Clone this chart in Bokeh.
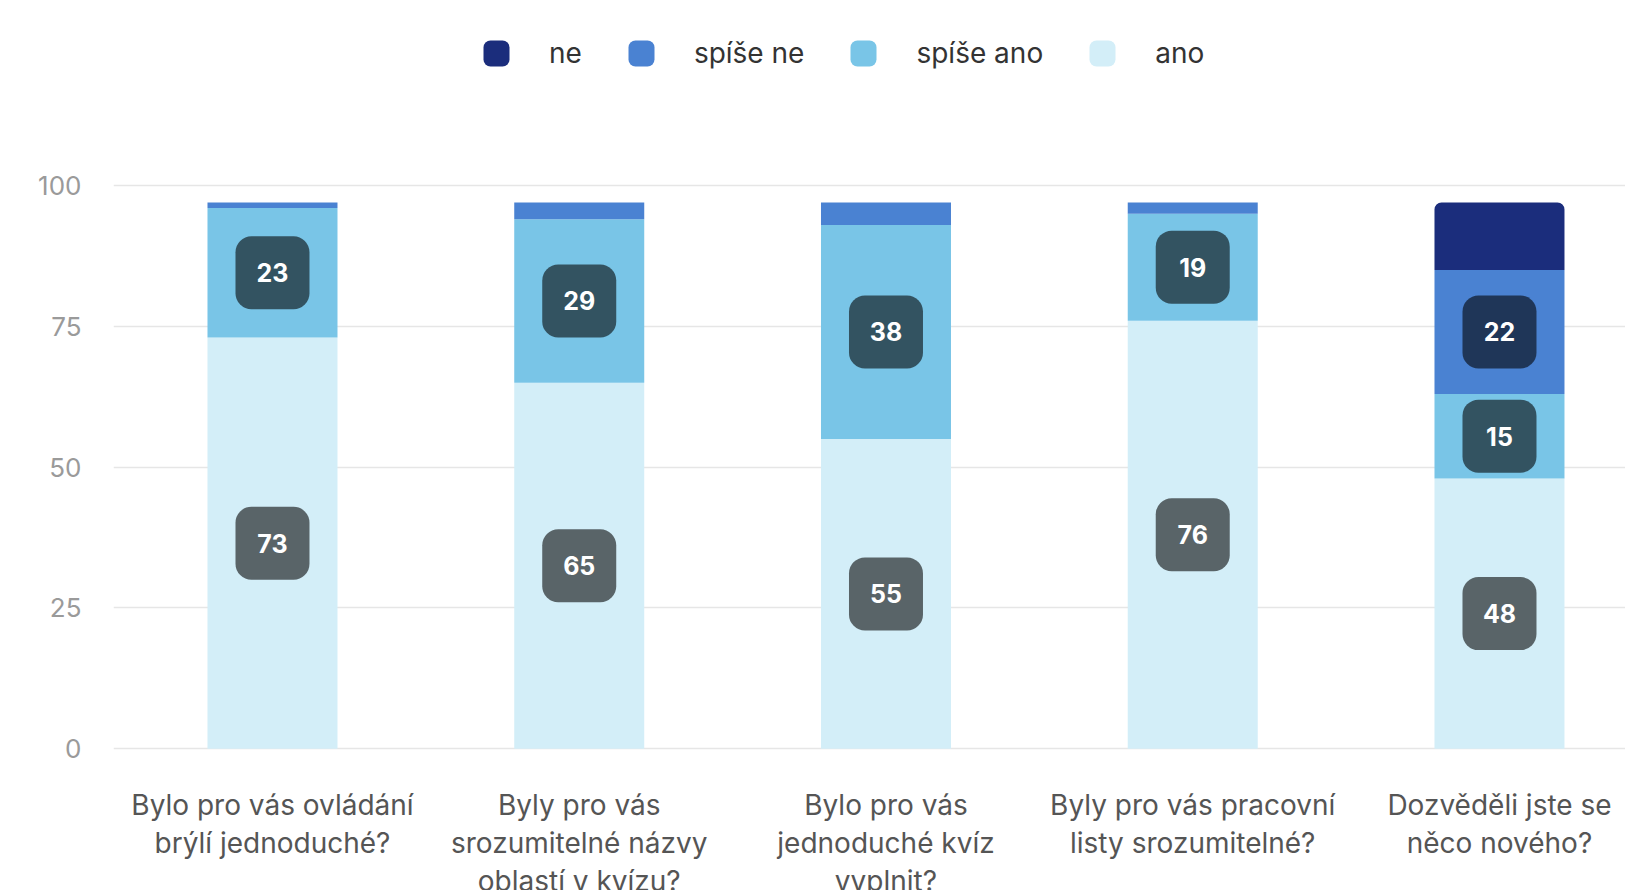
from bokeh.plotting import figure
from bokeh.layouts import column
from bokeh.models import (Range1d, FixedTicker, Legend, LegendItem,
                          ColumnDataSource)
from bokeh.core.properties import value
from bokeh.embed import file_html
from bokeh.resources import INLINE

# ---- data -------------------------------------------------------------
questions = [
    "Bylo pro vás ovládání\nbrýlí jednoduché?",
    "Byly pro vás\nsrozumitelné názvy\noblastí v kvízu?",
    "Bylo pro vás\njednoduché kvíz\nvyplnit?",
    "Byly pro vás pracovní\nlisty srozumitelné?",
    "Dozvěděli jste se\nněco nového?",
]
series = ["ano", "spíše ano", "spíše ne", "ne"]          # bottom -> top
ano = [73, 65, 55, 76, 48]
spise_ano = [23, 29, 38, 19, 15]
spise_ne = [1, 3, 4, 2, 22]
ne = [0, 0, 0, 0, 12]
y_ticks = [0, 25, 50, 75, 100]

colors = {"ano": "#d3eef8", "spíše ano": "#79c5e7",
          "spíše ne": "#4a82d2", "ne": "#1b2d7c"}
legend_order = ["ne", "spíše ne", "spíše ano", "ano"]

FONT = "Inter"
xs = list(range(len(questions)))
src = ColumnDataSource(dict(x=xs, **{"ano": ano, "spíše ano": spise_ano,
                                     "spíše ne": spise_ne, "ne": ne}))

p = figure(width=1625, height=770, output_backend="svg", toolbar_location=None,
           x_range=Range1d(-0.5183, 4.4108), y_range=Range1d(-0.3, 132.84),
           min_border_left=113, min_border_right=0, min_border_top=0,
           min_border_bottom=20)
p.outline_line_color = None
p.background_fill_color = "white"
p.border_fill_color = "white"

renderers = p.vbar_stack(series, x="x", width=0.4238, source=src,
                         color=[colors[s] for s in series], line_color=None)
renderers[-1].glyph.border_radius = (7, 7, 0, 0)

# value boxes
lx, ly, lt = [], [], []
cols = [ano, spise_ano, spise_ne, ne]
for i in xs:
    bottom = 0
    for c in cols:
        v = c[i]
        if v >= 15:
            lx.append(i)
            ly.append(bottom + v / 2)
            lt.append(str(v))
        bottom += v
lsrc = ColumnDataSource(dict(x=lx, y=ly, t=lt))
p.rect(x="x", y="y", width=74, height=73, width_units="screen",
       height_units="screen", source=lsrc, fill_color="black",
       fill_alpha=0.58, line_color=None, border_radius=16)
p.text(x="x", y="y", text="t", source=lsrc, text_align="center",
       text_baseline="middle", text_color="white", text_font_size="25px",
       text_font_style="bold", text_font=value(FONT))

# axes
p.xaxis.visible = False
p.xgrid.visible = False
p.yaxis.ticker = FixedTicker(ticks=y_ticks)
p.yaxis.axis_line_color = None
p.yaxis.major_tick_line_color = None
p.yaxis.minor_tick_line_color = None
p.yaxis.major_label_text_color = "#9a9a9a"
p.yaxis.major_label_text_font_size = "26px"
p.yaxis.major_label_text_font = FONT
p.yaxis.major_label_standoff = 26
p.ygrid.ticker = FixedTicker(ticks=y_ticks)
p.ygrid.grid_line_color = "#e6e6e6"
p.ygrid.grid_line_width = 1.5

# legend (rounded square markers)
items = []
for s in legend_order:
    r = p.scatter(x=[float("nan")], y=[float("nan")], marker="square",
                  size=12, fill_color=colors[s], line_color=colors[s],
                  line_width=14, line_join="round")
    items.append(LegendItem(label=s, renderers=[r]))
legend = Legend(items=items, orientation="horizontal", location=(368, 680),
                glyph_width=30, glyph_height=30, label_height=30,
                label_standoff=38, spacing=44, padding=0, margin=0,
                label_text_font=FONT, label_text_font_size="28px",
                label_text_color="#333333", background_fill_alpha=0,
                border_line_alpha=0)
p.add_layout(legend, "center")

# category labels strip (shares the x scale)
p2 = figure(width=1625, height=120, output_backend="svg",
            toolbar_location=None, x_range=p.x_range,
            y_range=Range1d(0, 120), min_border_left=113, min_border_right=0,
            min_border_top=0, min_border_bottom=0)
p2.outline_line_color = None
p2.axis.visible = False
p2.grid.visible = False
qsrc = ColumnDataSource(dict(x=xs, t=questions))
p2.text(x="x", y=103, text="t", source=qsrc, text_align="center",
        text_baseline="top", text_font=value(FONT), text_font_size="28px",
        text_color="#555555", text_line_height=1.12)

layout = column(p, p2, spacing=0)
open("out.html", "w").write(file_html(layout, INLINE))
